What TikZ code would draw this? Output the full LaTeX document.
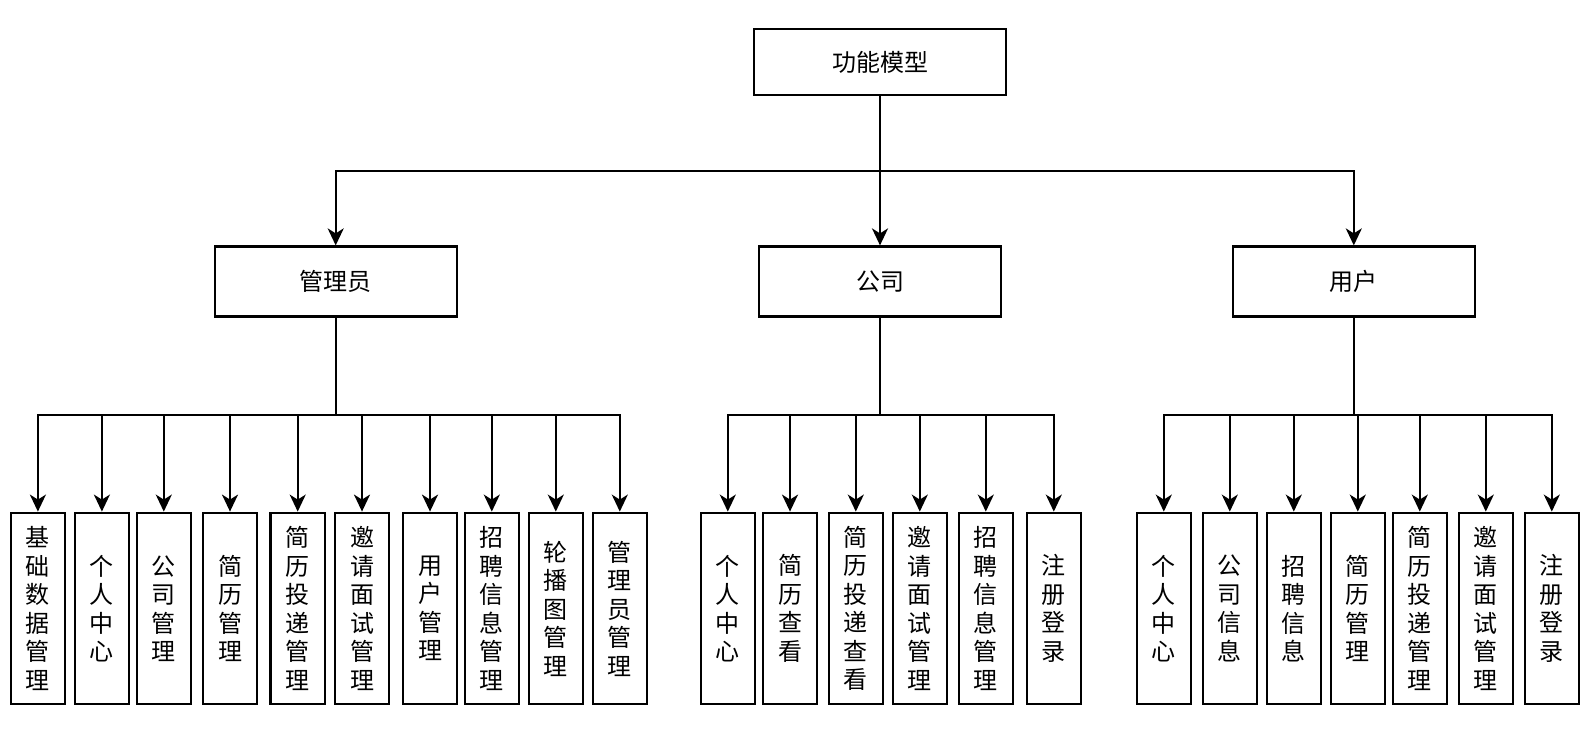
\documentclass[tikz,border=0pt]{standalone}
\usepackage{fontspec}
\setmainfont{Noto Sans CJK SC}
\usetikzlibrary{arrows.meta}
\begin{document}
\begin{tikzpicture}[x=1pt,y=-1pt,
  every node/.style={inner sep=0pt},
  boxbase/.style={draw, line width=2.2pt, fill=white, align=center},
  topbox/.style={boxbase, minimum width=252pt, minimum height=66pt, font=\fontsize{24}{28}\selectfont},
  midbox/.style={boxbase, minimum width=242pt, minimum height=70pt, font=\fontsize{24}{28}\selectfont},
  leaf/.style={boxbase, minimum width=54.3pt, minimum height=191.6pt, font=\fontsize{24}{28.5}\selectfont},
  arr/.style={line width=2.2pt, -{Stealth[length=17pt,width=16pt,inset=5pt]}},
]
\fill[white] (0,0) rectangle (1593,755);
\useasboundingbox (0,0) rectangle (1593,755);

% top
\node[topbox] (root) at (880,62) {功能模型};
% level 2
\node[midbox] (adm) at (335.7,281.5) {管理员};
\node[midbox] (com) at (880,281.5) {公司};
\node[midbox] (usr) at (1353.8,281.5) {用户};

\coordinate (bus0) at (880,170.7);
\coordinate (bus1) at (880,414.7);

% level 3 admin
\node[leaf] (a1) at (37.9,608.5) {基\\础\\数\\据\\管\\理};
\node[leaf] (a2) at (101.9,608.5) {个\\人\\中\\心};
\node[leaf] (a3) at (163.8,608.5) {公\\司\\管\\理};
\node[leaf] (a4) at (230,608.5) {简\\历\\管\\理};
\node[leaf] (a5) at (297.7,608.5) {简\\历\\投\\递\\管\\理};
\node[leaf] (a6) at (362,608.5) {邀\\请\\面\\试\\管\\理};
\node[leaf] (a7) at (430,608.5) {用\\户\\管\\理};
\node[leaf] (a8) at (491.8,608.5) {招\\聘\\信\\息\\管\\理};
\node[leaf] (a9) at (555.8,608.5) {轮\\播\\图\\管\\理};
\node[leaf] (a10) at (619.8,608.5) {管\\理\\员\\管\\理};

% level 3 company
\node[leaf] (b1) at (727.8,608.5) {个\\人\\中\\心};
\node[leaf] (b2) at (790,608.5) {简\\历\\查\\看};
\node[leaf] (b3) at (855.8,608.5) {简\\历\\投\\递\\查\\看};
\node[leaf] (b4) at (919.8,608.5) {邀\\请\\面\\试\\管\\理};
\node[leaf] (b5) at (985.8,608.5) {招\\聘\\信\\息\\管\\理};
\node[leaf] (b6) at (1053.8,608.5) {注\\册\\登\\录};

% level 3 user
\node[leaf] (c1) at (1163.8,608.5) {个\\人\\中\\心};
\node[leaf] (c2) at (1229.8,608.5) {公\\司\\信\\息};
\node[leaf] (c3) at (1293.8,608.5) {招\\聘\\信\\息};
\node[leaf] (c4) at (1357.8,608.5) {简\\历\\管\\理};
\node[leaf] (c5) at (1419.8,608.5) {简\\历\\投\\递\\管\\理};
\node[leaf] (c6) at (1485.8,608.5) {邀\\请\\面\\试\\管\\理};
\node[leaf] (c7) at (1551.8,608.5) {注\\册\\登\\录};

% connectors level 1 -> 2
\foreach \c in {adm,com,usr}
  \draw[arr] (root.south) -- (root.south |- bus0) -| (\c.north);

% connectors level 2 -> 3
\foreach \c in {a1,a2,a3,a4,a5,a6,a7,a8,a9,a10}
  \draw[arr] (adm.south) -- (adm.south |- bus1) -| (\c.north);
\foreach \c in {b1,b2,b3,b4,b5,b6}
  \draw[arr] (com.south) -- (com.south |- bus1) -| (\c.north);
\foreach \c in {c1,c2,c3,c4,c5,c6,c7}
  \draw[arr] (usr.south) -- (usr.south |- bus1) -| (\c.north);
\end{tikzpicture}
\end{document}
